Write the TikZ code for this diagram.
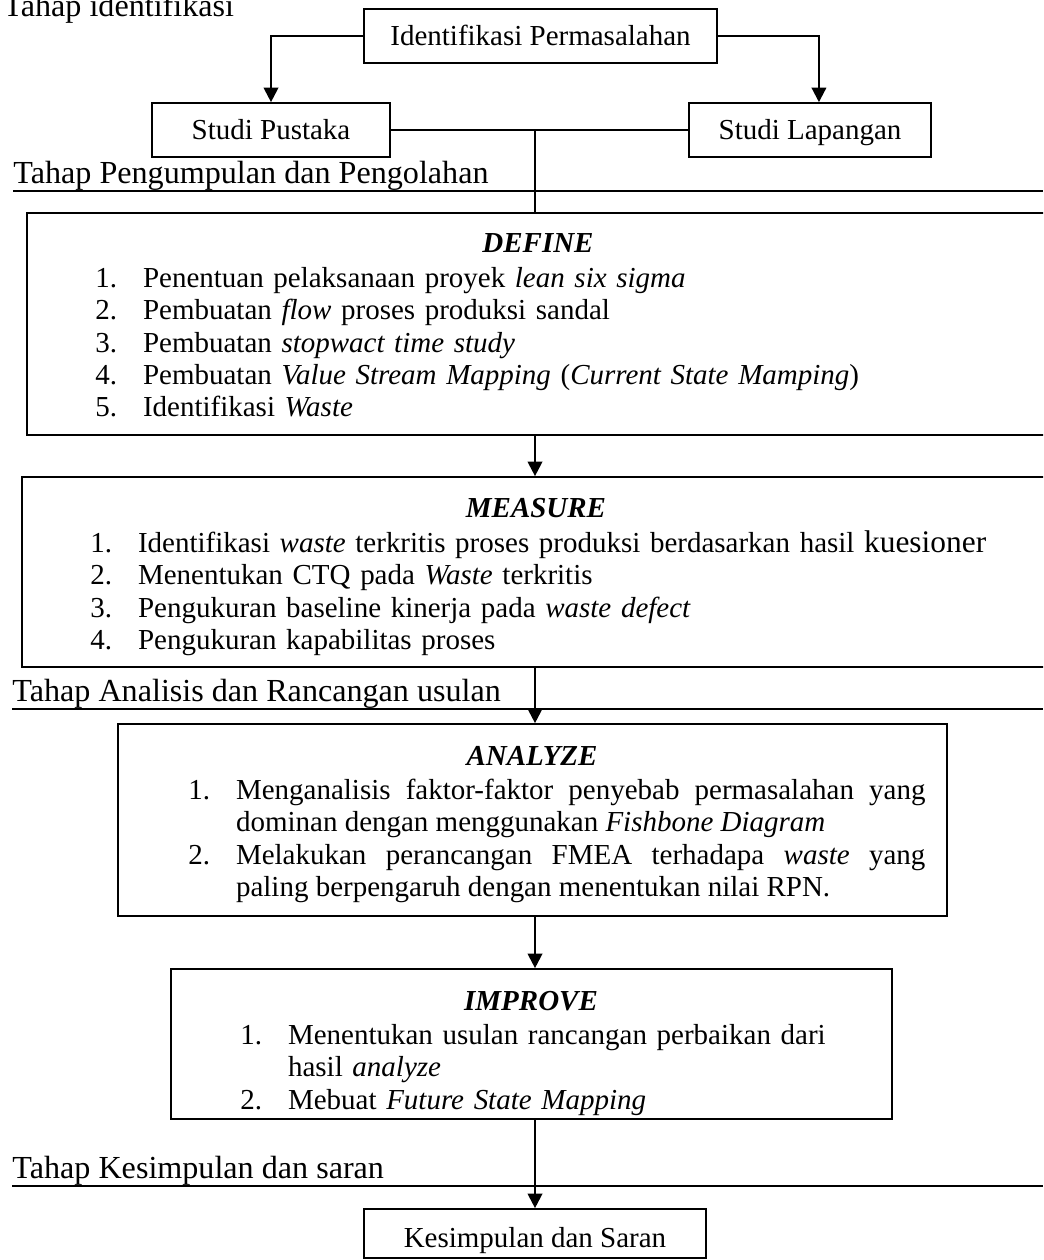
\documentclass[tikz,border=0pt]{standalone}
\usepackage{fontspec}
\setmainfont{Liberation Serif}
\usetikzlibrary{arrows.meta,fit}

\newlength{\itemind}
\setlength{\itemind}{19.7pt}
\newcommand{\listitem}[2]{\par\noindent\hangindent=\itemind\hangafter=1\makebox[\itemind][l]{#1}#2\par}

\begin{document}
\begin{tikzpicture}[
    x=0.414pt, y=-0.414pt,
    font=\fontsize{12}{13.4}\selectfont,
    every label/.append style={text height=8.5pt, text depth=1pt},
    box/.style={draw, line width=0.7pt, inner sep=0pt},
    phasetitle/.style={anchor=base, inner sep=0pt, font=\fontsize{12}{13.4}\selectfont\bfseries\itshape},
    phaselist/.style={anchor=base west, inner sep=0pt, align=left},
    stagelabel/.style={anchor=south west, inner sep=0pt, font=\fontsize{13.3}{15}\selectfont},
    stageline/.style={line width=0.8pt},
    link/.style={line width=0.9pt},
    arrow/.style={-{Triangle[length=6pt,width=6pt]}, line width=0.9pt}
]
\clip (0,0) rectangle (1043,1260);

% Tahap identifikasi
\node[anchor=base west, inner sep=0pt, font=\fontsize{13.3}{15}\selectfont] (tahapsatu) at (3,17) {Tahap identifikasi};
\node[box, fit={(364,9) (717,63)}, label=center:Identifikasi Permasalahan] (identifikasi) {};
\node[box, fit={(152,103) (390,157)}, label=center:Studi Pustaka] (pustaka) {};
\node[box, fit={(689,103) (931,157)}, label=center:Studi Lapangan] (lapangan) {};

% Tahap pengumpulan dan pengolahan
\node[stagelabel] (tahapdua) at (13,191) {Tahap Pengumpulan dan Pengolahan};
\coordinate (edge) at (1043,0);
\coordinate (axis) at (535,131);

% Define
\node[box, fit={(27,213) (1050,435)}] (define) {};
\node[phasetitle] (definetitle) at (538,253) {DEFINE};
\node[phaselist, text width=370pt] (definelist) at (95,255) {%
  \listitem{1.}{Penentuan pelaksanaan proyek \textit{lean six sigma}}%
  \listitem{2.}{Pembuatan \textit{flow} proses produksi sandal}%
  \listitem{3.}{Pembuatan \textit{stopwact time study}}%
  \listitem{4.}{Pembuatan \textit{Value Stream Mapping} (\textit{Current State Mamping})}%
  \listitem{5.}{Identifikasi \textit{Waste}}};

% Measure
\node[box, fit={(22,477) (1050,667)}] (measure) {};
\node[phasetitle] (measuretitle) at (536,517) {MEASURE};
\node[phaselist, text width=380pt] (measurelist) at (90,520) {%
  \listitem{1.}{Identifikasi \textit{waste} terkritis proses produksi berdasarkan hasil {\fontsize{13}{13.4}\selectfont kuesioner}}%
  \listitem{2.}{Menentukan CTQ pada \textit{Waste} terkritis}%
  \listitem{3.}{Pengukuran baseline kinerja pada \textit{waste defect}}%
  \listitem{4.}{Pengukuran kapabilitas proses}};

% Tahap analisis dan rancangan usulan
\node[stagelabel] (tahaptiga) at (12,709) {Tahap Analisis dan Rancangan usulan};

% Analyze
\node[box, fit={(118,724) (947,916)}] (analyze) {};
\node[phasetitle] (analyzetitle) at (532,765) {ANALYZE};
\node[phaselist, align=justify, text width=305.1pt] (analyzelist) at (188,767) {%
  \listitem{1.}{Menganalisis faktor-faktor penyebab permasalahan yang\linebreak dominan dengan menggunakan \textit{Fishbone Diagram}}%
  \listitem{2.}{Melakukan perancangan FMEA terhadapa \textit{waste} yang\linebreak paling berpengaruh dengan menentukan nilai RPN.}};

% Improve
\node[box, fit={(171,969) (892,1119)}] (improve) {};
\node[phasetitle] (improvetitle) at (531,1010) {IMPROVE};
\begin{scope}
  \clip (improve.north west) rectangle (improve.south east);
  \node[phaselist, text width=280pt] (improvelist) at (240,1012) {%
    \listitem{1.}{Menentukan usulan rancangan perbaikan dari\newline hasil \textit{analyze}}%
    \listitem{2.}{Mebuat \textit{Future State Mapping}}};
\end{scope}

% Tahap kesimpulan dan saran
\node[stagelabel] (tahapempat) at (12,1186) {Tahap Kesimpulan dan saran};
\node[box, fit={(364,1209) (706,1258)}, label={[yshift=-1.9pt]center:Kesimpulan dan Saran}] (kesimpulan) {};

% garis tahap
\draw[stageline] (tahapdua.south west) -- (tahapdua.south west -| edge);
\draw[stageline] (tahaptiga.south west) -- (tahaptiga.south west -| edge);
\draw[stageline] (tahapempat.south west) -- (tahapempat.south west -| edge);

% hubungan
\draw[arrow] (identifikasi.west) -| (pustaka.north);
\draw[arrow] (identifikasi.east) -| ([xshift=3.7pt]lapangan.north);
\draw[link] (pustaka.east) -- (lapangan.west);
\draw[link] (axis) -- (axis |- define.north);
\draw[arrow] (define.south -| axis) -- (measure.north -| axis);
\draw[arrow] (measure.south -| axis) -- (analyze.north -| axis);
\draw[arrow] (analyze.south -| axis) -- (improve.north -| axis);
\draw[arrow] (improve.south -| axis) -- (kesimpulan.north -| axis);

\end{tikzpicture}
\end{document}
